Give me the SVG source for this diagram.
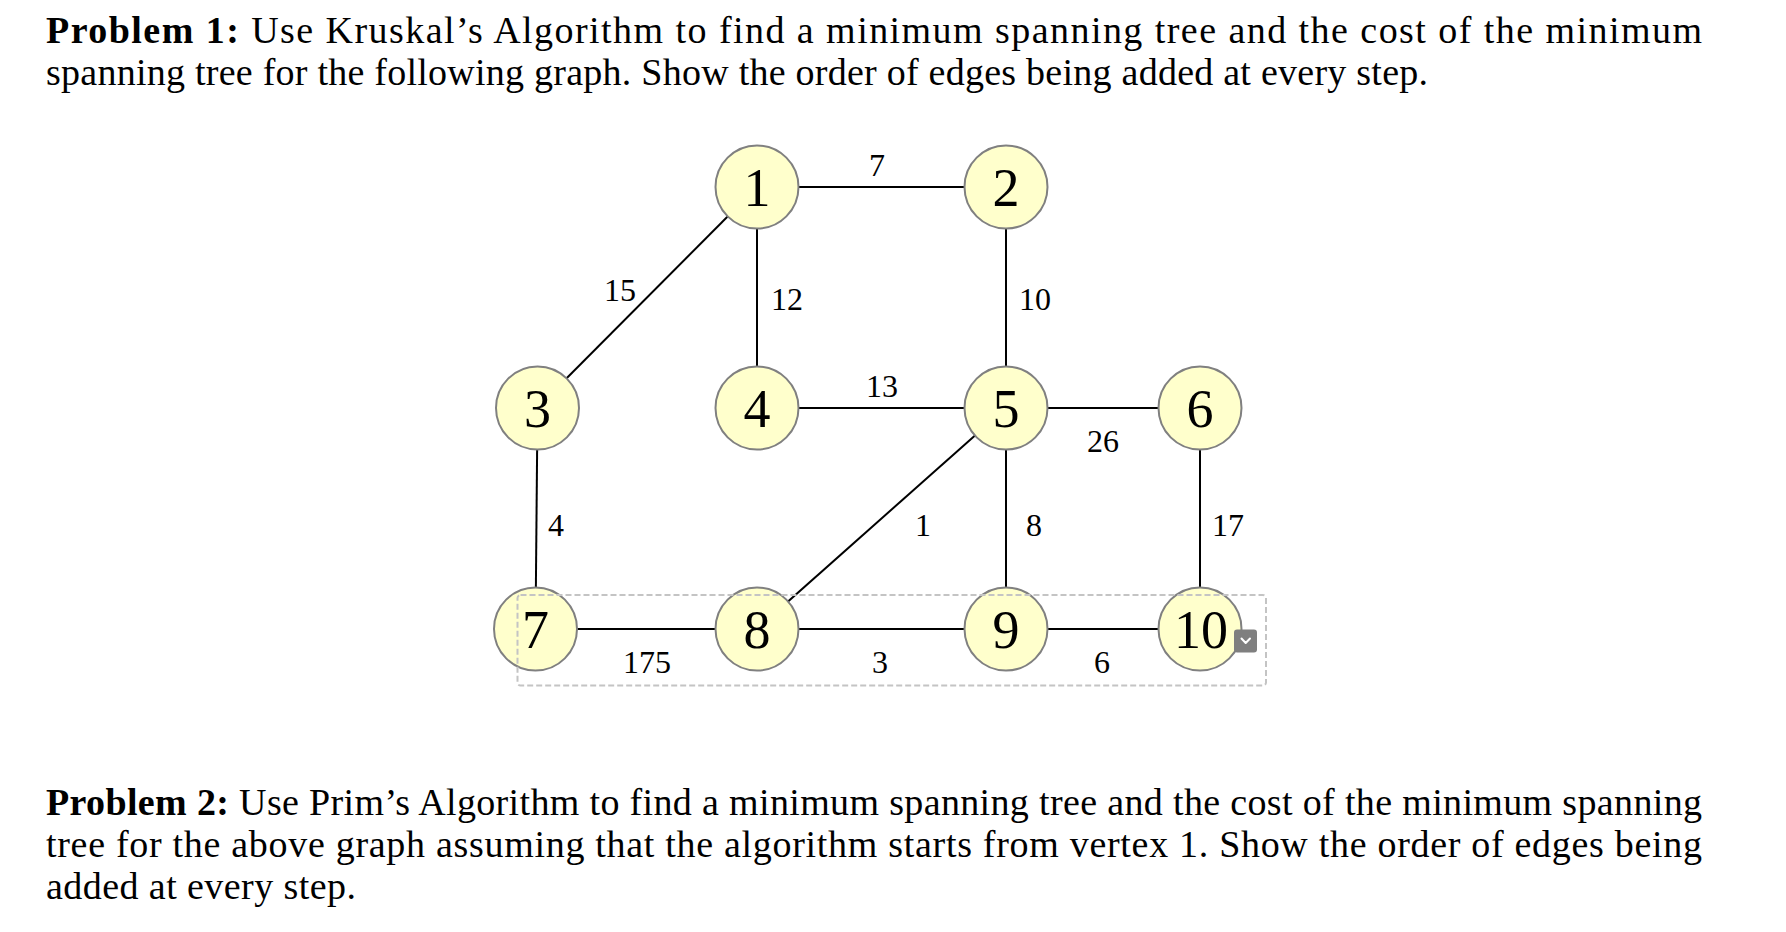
<svg xmlns="http://www.w3.org/2000/svg" width="1786" height="932" viewBox="0 0 1786 932">
<style>
.txt{font-family:"Liberation Serif","Times New Roman",serif;font-size:38px;fill:#000}
.b{font-weight:bold}
.edge{stroke:#000;stroke-width:2;fill:none}
.node circle{fill:#ffffcc;stroke:#808080;stroke-width:2}
.node text{font-family:"Liberation Serif","Times New Roman",serif;font-size:54px;fill:#000;text-anchor:middle}
.elabel{font-family:"Liberation Serif","Times New Roman",serif;font-size:32px;fill:#000;text-anchor:middle}
</style>
<rect x="0" y="0" width="1786" height="932" fill="#fff"/>
<g id="problem1">
<text class="txt" x="46" y="43" textLength="1656" lengthAdjust="spacing"><tspan class="b">Problem 1:</tspan> Use Kruskal’s Algorithm to find a minimum spanning tree and the cost of the minimum</text>
<text class="txt" x="46" y="85" textLength="1382" lengthAdjust="spacing">spanning tree for the following graph. Show the order of edges being added at every step.</text>
</g>
<g id="connectors">
<line class="edge" x1="757" y1="187" x2="1006" y2="187"/>
<line class="edge" x1="757" y1="187" x2="537" y2="408"/>
<line class="edge" x1="757" y1="187" x2="757" y2="408"/>
<line class="edge" x1="1006" y1="187" x2="1006" y2="408"/>
<line class="edge" x1="757" y1="408" x2="1006" y2="408"/>
<line class="edge" x1="1006" y1="408" x2="1200" y2="408"/>
<line class="edge" x1="537.5" y1="408" x2="535.5" y2="629"/>
<line class="edge" x1="1006" y1="408" x2="757" y2="629"/>
<line class="edge" x1="1006" y1="408" x2="1006" y2="629"/>
<line class="edge" x1="1200" y1="408" x2="1200" y2="629"/>
<line class="edge" x1="535.5" y1="629" x2="757" y2="629"/>
<line class="edge" x1="757" y1="629" x2="1006" y2="629"/>
<line class="edge" x1="1006" y1="629" x2="1200" y2="629"/>
<text class="elabel" x="877" y="176">7</text>
<text class="elabel" x="620" y="301">15</text>
<text class="elabel" x="787" y="310">12</text>
<text class="elabel" x="1035" y="310">10</text>
<text class="elabel" x="882" y="397">13</text>
<text class="elabel" x="1103" y="452">26</text>
<text class="elabel" x="556" y="536">4</text>
<text class="elabel" x="923" y="536">1</text>
<text class="elabel" x="1034" y="536">8</text>
<text class="elabel" x="1228" y="536">17</text>
<text class="elabel" x="647" y="673">175</text>
<text class="elabel" x="880" y="673">3</text>
<text class="elabel" x="1102" y="673">6</text>
</g>
<g id="node1" class="node"><circle cx="757" cy="187" r="41.5"/><text x="757" y="205.5">1</text></g>
<g id="node2" class="node"><circle cx="1006" cy="187" r="41.5"/><text x="1006" y="205.5">2</text></g>
<g id="node3" class="node"><circle cx="537.5" cy="408" r="41.5"/><text x="537.5" y="426.5">3</text></g>
<g id="node4" class="node"><circle cx="757" cy="408" r="41.5"/><text x="757" y="426.5">4</text></g>
<g id="node5" class="node"><circle cx="1006" cy="408" r="41.5"/><text x="1006" y="426.5">5</text></g>
<g id="node6" class="node"><circle cx="1200" cy="408" r="41.5"/><text x="1200" y="426.5">6</text></g>
<g id="node7" class="node"><circle cx="535.5" cy="629" r="41.5"/><text x="535.5" y="647.5">7</text></g>
<g id="node8" class="node"><circle cx="757" cy="629" r="41.5"/><text x="757" y="647.5">8</text></g>
<g id="node9" class="node"><circle cx="1006" cy="629" r="41.5"/><text x="1006" y="647.5">9</text></g>
<g id="node10" class="node"><circle cx="1200" cy="629" r="41.5"/><text x="1201" y="647.5">10</text></g>
<g id="selection">
<rect x="517.5" y="595" width="748.5" height="90.5" rx="3" fill="none" stroke="#c4c4c4" stroke-width="2" stroke-dasharray="6 3"/>
<rect x="1234" y="629.5" width="23" height="23" rx="3" fill="#7f7f7f"/>
<polyline points="1241.5,638.5 1245.7,643 1250,638.5" fill="none" stroke="#fff" stroke-width="2" stroke-linecap="round" stroke-linejoin="round"/>
</g>
<g id="problem2">
<text class="txt" x="46" y="815" textLength="1656" lengthAdjust="spacing"><tspan class="b">Problem 2:</tspan> Use Prim’s Algorithm to find a minimum spanning tree and the cost of the minimum spanning</text>
<text class="txt" x="46" y="857" textLength="1656" lengthAdjust="spacing">tree for the above graph assuming that the algorithm starts from vertex 1. Show the order of edges being</text>
<text class="txt" x="46" y="899" textLength="310" lengthAdjust="spacing">added at every step.</text>
</g>
</svg>
